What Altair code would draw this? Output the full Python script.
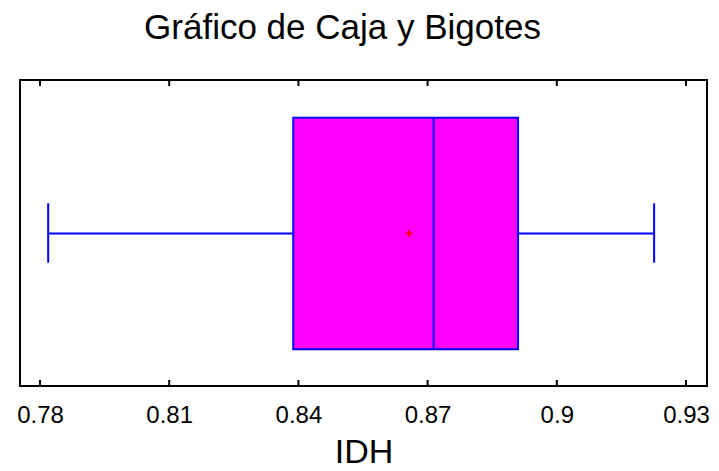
import altair as alt
import pandas as pd

# Box plot summary values (IDH)
stat_names = ["min", "q1", "median", "q3", "max", "mean"]
stat_values = [0.7819, 0.8388, 0.8714, 0.8910, 0.9226, 0.8657]
tick_values = [0.78, 0.81, 0.84, 0.87, 0.90, 0.93]
x_domain = [0.775356, 0.934875]

stats = dict(zip(stat_names, stat_values))
df = pd.DataFrame([stats])
ticks_df = pd.DataFrame({"t": tick_values})

FONT = "Liberation Sans"
W = 687
H = 306

xscale = alt.Scale(domain=x_domain, nice=False, zero=False)
xaxis = alt.Axis(values=tick_values, format="~g", ticks=False, tickSize=0, domain=False,
                 grid=False, labelFontSize=24, labelFont=FONT, labelColor="black",
                 labelBaseline="alphabetic", labelPadding=36,
                 title="IDH", titleFont=FONT, titleFontSize=34,
                 titleFontWeight="normal", titleColor="black", titlePadding=8)

base = alt.Chart(df)

box = base.mark_rect(fill="#FF00FF", stroke="#0000FF", strokeWidth=2).encode(
    x=alt.X("q1:Q", scale=xscale, axis=xaxis),
    x2="q3:Q",
    y=alt.value(37.7), y2=alt.value(269.3))

wl = base.mark_rule(color="#0000FF", strokeWidth=2).encode(
    x=alt.X("min:Q", scale=xscale), x2="q1:Q", y=alt.value(153.5))
wr = base.mark_rule(color="#0000FF", strokeWidth=2).encode(
    x=alt.X("q3:Q", scale=xscale), x2="max:Q", y=alt.value(153.5))
capl = base.mark_rule(color="#0000FF", strokeWidth=2).encode(
    x=alt.X("min:Q", scale=xscale), y=alt.value(123.3), y2=alt.value(182.7))
capr = base.mark_rule(color="#0000FF", strokeWidth=2).encode(
    x=alt.X("max:Q", scale=xscale), y=alt.value(123.3), y2=alt.value(182.7))
med = base.mark_rule(color="#0000FF", strokeWidth=2).encode(
    x=alt.X("median:Q", scale=xscale), y=alt.value(37.7), y2=alt.value(269.3))
mean = base.mark_point(shape="M-1,0L1,0M0,-1L0,1", filled=False, color="red",
                       strokeWidth=2, size=40, opacity=1).encode(
    x=alt.X("mean:Q", scale=xscale), y=alt.value(153.5))

tb = alt.Chart(ticks_df).mark_rule(color="black", strokeWidth=2).encode(
    x=alt.X("t:Q", scale=xscale), y=alt.value(H), y2=alt.value(H - 6))
tt = alt.Chart(ticks_df).mark_rule(color="black", strokeWidth=2).encode(
    x=alt.X("t:Q", scale=xscale), y=alt.value(0), y2=alt.value(6))

chart = alt.layer(box, wl, wr, capl, capr, med, mean, tb, tt).properties(
    width=W, height=H,
    background="white",
    autosize=alt.AutoSizeParams(type="none"),
    padding={"left": 12, "top": 72, "right": 4, "bottom": 85},
    title=alt.TitleParams("Gráfico de Caja y Bigotes", font=FONT, fontSize=35,
                          fontWeight="normal", color="black", anchor="middle",
                          dx=-21, offset=33),
).configure_view(stroke="black", strokeWidth=2)

chart.save("out.html", embed_options={"renderer": "svg", "actions": False})
